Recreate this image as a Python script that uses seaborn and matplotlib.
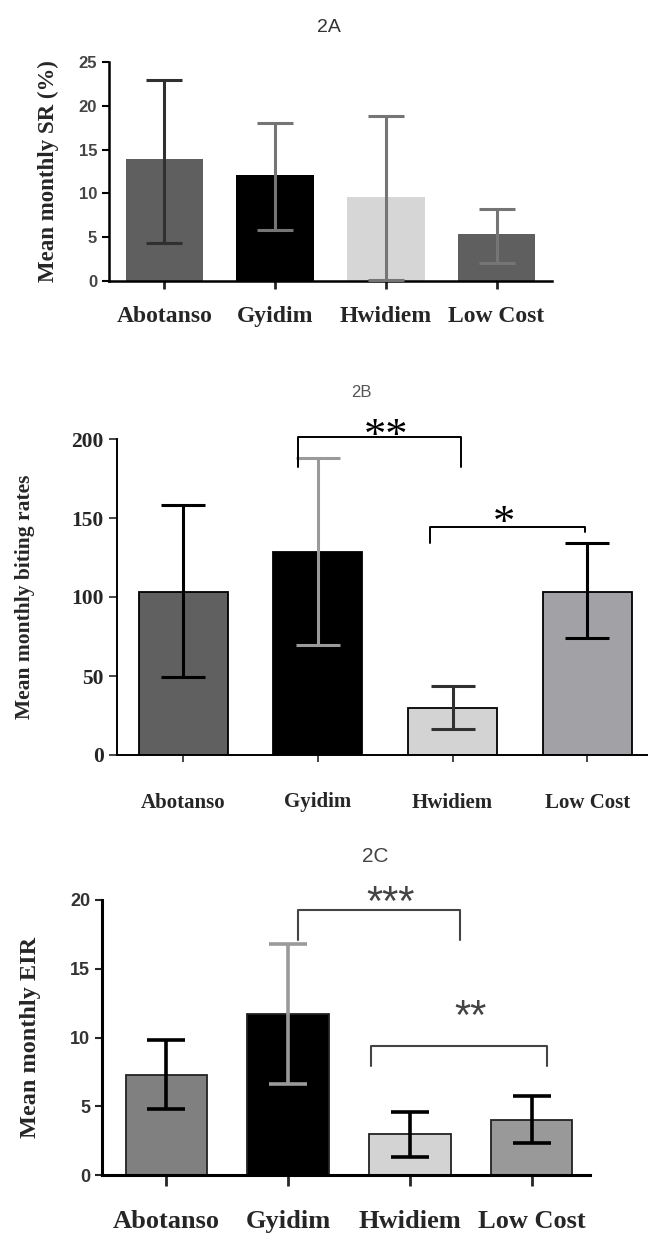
import matplotlib
matplotlib.use('Agg')
import matplotlib.pyplot as plt
import seaborn as sns
import pandas as pd

# data
cats = ['Abotanso', 'Gyidim', 'Hwidiem', 'Low Cost']

sr_mean = [13.9, 12.1, 9.6, 5.35]
sr_low = [4.35, 5.8, 0.1, 2.1]
sr_high = [22.9, 18.0, 18.8, 8.2]

br_mean = [103, 128.5, 29.7, 103]
br_low = [49.5, 69.6, 16.5, 74]
br_high = [158, 188, 43.7, 134]

eir_mean = [7.27, 11.7, 2.96, 4.0]
eir_low = [4.8, 6.6, 1.29, 2.35]
eir_high = [9.8, 16.8, 4.56, 5.75]

sns.set_style('ticks')
plt.rcParams['font.family'] = ['Liberation Serif', 'DejaVu Serif']

SERIF = ['Liberation Serif', 'DejaVu Serif']
NARROW = ['Liberation Sans Narrow', 'Liberation Sans', 'DejaVu Sans']
SANS = ['Liberation Sans', 'DejaVu Sans']

fig = plt.figure(figsize=(6.48, 12.33), dpi=100)


def panel(rect, mean, low, high, bar_cols, err_cols, edge, edge_lw, width,
          capsize, elw, spine_lw, xlim, ylim):
    ax = fig.add_axes(rect)
    df = pd.DataFrame({'site': cats, 'val': mean})
    sns.barplot(data=df, x='site', y='val', hue='site', palette=bar_cols,
                legend=False, errorbar=None, width=width, edgecolor=edge,
                linewidth=edge_lw, ax=ax, saturation=1)
    for i, (m, lo, hi) in enumerate(zip(mean, low, high)):
        ax.errorbar(i, m, yerr=[[m - lo], [hi - m]], fmt='none',
                    ecolor=err_cols[i], elinewidth=elw, capsize=capsize,
                    capthick=elw, zorder=5)
    ax.set_xlim(*xlim)
    ax.set_ylim(*ylim)
    for s in ['top', 'right']:
        ax.spines[s].set_visible(False)
    for s in ['left', 'bottom']:
        ax.spines[s].set_linewidth(spine_lw)
        ax.spines[s].set_color('black')
    ax.set_xlabel('')
    ax.set_facecolor('white')
    return ax


# ---- 2A ----
axA = panel([109/648, 1-281/1233, 443/648, 219/1233], sr_mean, sr_low, sr_high,
            ['#5f5f5f', '#000000', '#d6d6d6', '#5f5f5f'],
            ['#303030', '#757575', '#757575', '#757575'],
            'none', 0, 0.70, 13, 2.2, 1.8, (-0.5, 3.5), (0, 25))
axA.set_yticks([0, 5, 10, 15, 20, 25])
axA.tick_params(axis='y', length=5, width=1.5, labelsize=12, colors='black',
                labelcolor='#444444')
axA.tick_params(axis='x', length=6, width=2, labelsize=17, pad=12)
for t in axA.get_yticklabels():
    t.set_family(NARROW)
    t.set_weight('bold')
for t in axA.get_xticklabels():
    t.set_family(SERIF)
    t.set_weight('bold')
axA.set_ylabel('Mean monthly SR (%)', fontsize=16.5, fontweight='bold',
               family=SERIF, labelpad=14)
fig.text(329/648, 1-28/1233, '2A', ha='center', va='center', fontsize=14,
         family=NARROW, color='#333333')

# ---- 2B ----
axB = panel([117/648, 1-755/1233, 531/648, 316/1233], br_mean, br_low, br_high,
            ['#606060', '#000000', '#d3d3d3', '#a2a2a6'],
            ['#000000', '#9a9a9a', '#303030', '#000000'],
            'black', 1.3, 0.66, 16, 2.2, 1.4, (-0.49, 3.45), (0, 200))
axB.set_yticks([0, 50, 100, 150, 200])
axB.tick_params(axis='y', length=6, width=1.2, labelsize=15.5)
axB.tick_params(axis='x', length=5, width=1.2, labelsize=15, pad=22)
for t in axB.get_yticklabels() + axB.get_xticklabels():
    t.set_family(SERIF)
    t.set_weight('bold')
axB.set_ylabel('Mean monthly biting rates', fontsize=15.5, fontweight='bold',
               family=SERIF, labelpad=26)
fig.text(361/648, 1-393/1233, '2B', ha='center', va='center', fontsize=12,
         family=SANS, color='#555555')


def bracket(ax, x0, x1, y, yl, yr, label, tx, ty, size, color, lw, family):
    ax.plot([x0, x0, x1, x1], [yl, y, y, yr], color=color, lw=lw,
            clip_on=False, zorder=6)
    ax.text(tx, ty, label, ha='center', va='center', fontsize=size,
            color=color, family=family, clip_on=False)


bracket(axB, 0.85, 2.06, 201.5, 182, 182, '**', 1.51, 201, 32, 'black', 1.4, SERIF)
bracket(axB, 1.83, 2.98, 144, 134, 141, '*', 2.38, 146, 32, 'black', 1.4, SERIF)

# ---- 2C ----
axC = panel([102/648, 1-1175/1233, 488/648, 275/1233], eir_mean, eir_low, eir_high,
            ['#808080', '#000000', '#d3d3d3', '#999999'],
            ['#000000', '#9a9a9a', '#000000', '#000000'],
            '#222222', 1.3, 0.67, 14, 2.6, 2.2, (-0.53, 3.48), (0, 20))
axC.set_yticks([0, 5, 10, 15, 20])
axC.tick_params(axis='y', length=5, width=1.5, labelsize=13, labelcolor='#333333')
axC.tick_params(axis='x', length=8, width=2, labelsize=19, pad=17)
for t in axC.get_yticklabels():
    t.set_family(SANS)
    t.set_weight('bold')
for t in axC.get_xticklabels():
    t.set_family(SERIF)
    t.set_weight('bold')
axC.set_ylabel('Mean monthly EIR', fontsize=17.5, fontweight='bold',
               family=SERIF, labelpad=21)
fig.text(375/648, 1-857/1233, '2C', ha='center', va='center', fontsize=15,
         family=SANS, color='#444444')

bracket(axC, 1.08, 2.41, 19.27, 17.1, 17.1, '***', 1.84, 19.7, 30, '#444444', 1.5, SANS)
bracket(axC, 1.68, 3.13, 9.4, 7.9, 7.9, '**', 2.5, 11.4, 30, '#444444', 1.5, SANS)

fig.savefig('out.png', dpi=100, facecolor='white')
